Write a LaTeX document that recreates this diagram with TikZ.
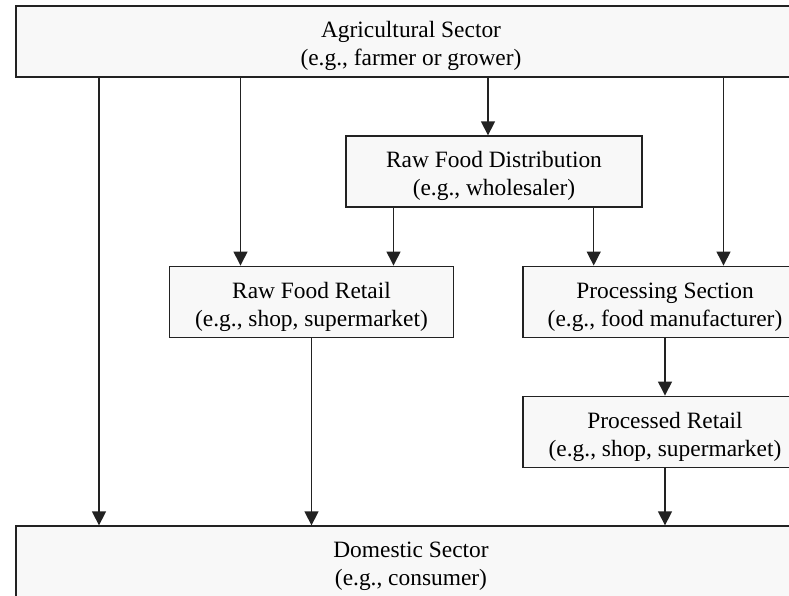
\documentclass[tikz,border=0pt]{standalone}
\usepackage{fontspec}
\setmainfont{Liberation Serif}
\definecolor{boxfill}{HTML}{F8F8F8}
\definecolor{lineclr}{HTML}{222222}
\usetikzlibrary{arrows.meta, positioning}
\newcommand{\hstrut}{\rule{0pt}{26pt}}
\tikzset{
	sector/.style={draw=lineclr, fill=boxfill, line width=1.3pt, align=center, inner sep=0pt, minimum height=71pt, font=\fontsize{23.4}{28}\selectfont},
	flow/.style={-{Triangle[length=14pt, width=14pt]}, line width=1.3pt, color=lineclr}
}

\begin{document}
\begin{tikzpicture}[x=1pt, y=-1pt]
	\clip (0,0) rectangle (789,595);
	\node[sector, minimum width=790pt] at (411, 41.5) (agri) {\hstrut Agricultural Sector\\(e.g., farmer or grower)};
	\node[sector, minimum width=296pt] at (494, 171.5) (rawdist) {\hstrut Raw Food Distribution\\(e.g., wholesaler)};
	\node[sector, minimum width=284pt] at (311.5, 301.7) (rawretail) {\hstrut Raw Food Retail\\(e.g., shop, supermarket)};
	\node[sector, minimum width=284pt] at (665, 301.7) (procsec) {\hstrut Processing Section\\(e.g., food manufacturer)};
	\node[sector, minimum width=284pt] at (665, 431.7) (procretail) {\hstrut Processed Retail\\(e.g., shop, supermarket)};
	\node[sector, minimum width=790pt] at (411, 561.5) (domestic) {\hstrut Domestic Sector\\(e.g., consumer)};
	% from the farm
	\draw[flow] (agri.south -| 99,0) -- (domestic.north -| 99,0);
	\draw[flow] (agri.south -| 240.5,0) -- (rawretail.north -| 240.5,0);
	\draw[flow] (agri.south -| 488,0) -- (rawdist.north -| 488,0);
	\draw[flow] (agri.south -| 723.5,0) -- (procsec.north -| 723.5,0);
	% wholesale
	\draw[flow] (rawdist.south -| 393.5,0) -- (rawretail.north -| 393.5,0);
	\draw[flow] (rawdist.south -| 593.7,0) -- (procsec.north -| 593.7,0);
	% to the consumer
	\draw[flow] (rawretail) -- (rawretail |- domestic.north);
	\draw[flow] (procsec) -- (procretail);
	\draw[flow] (procretail) -- (procretail |- domestic.north);
\end{tikzpicture}
\end{document}
